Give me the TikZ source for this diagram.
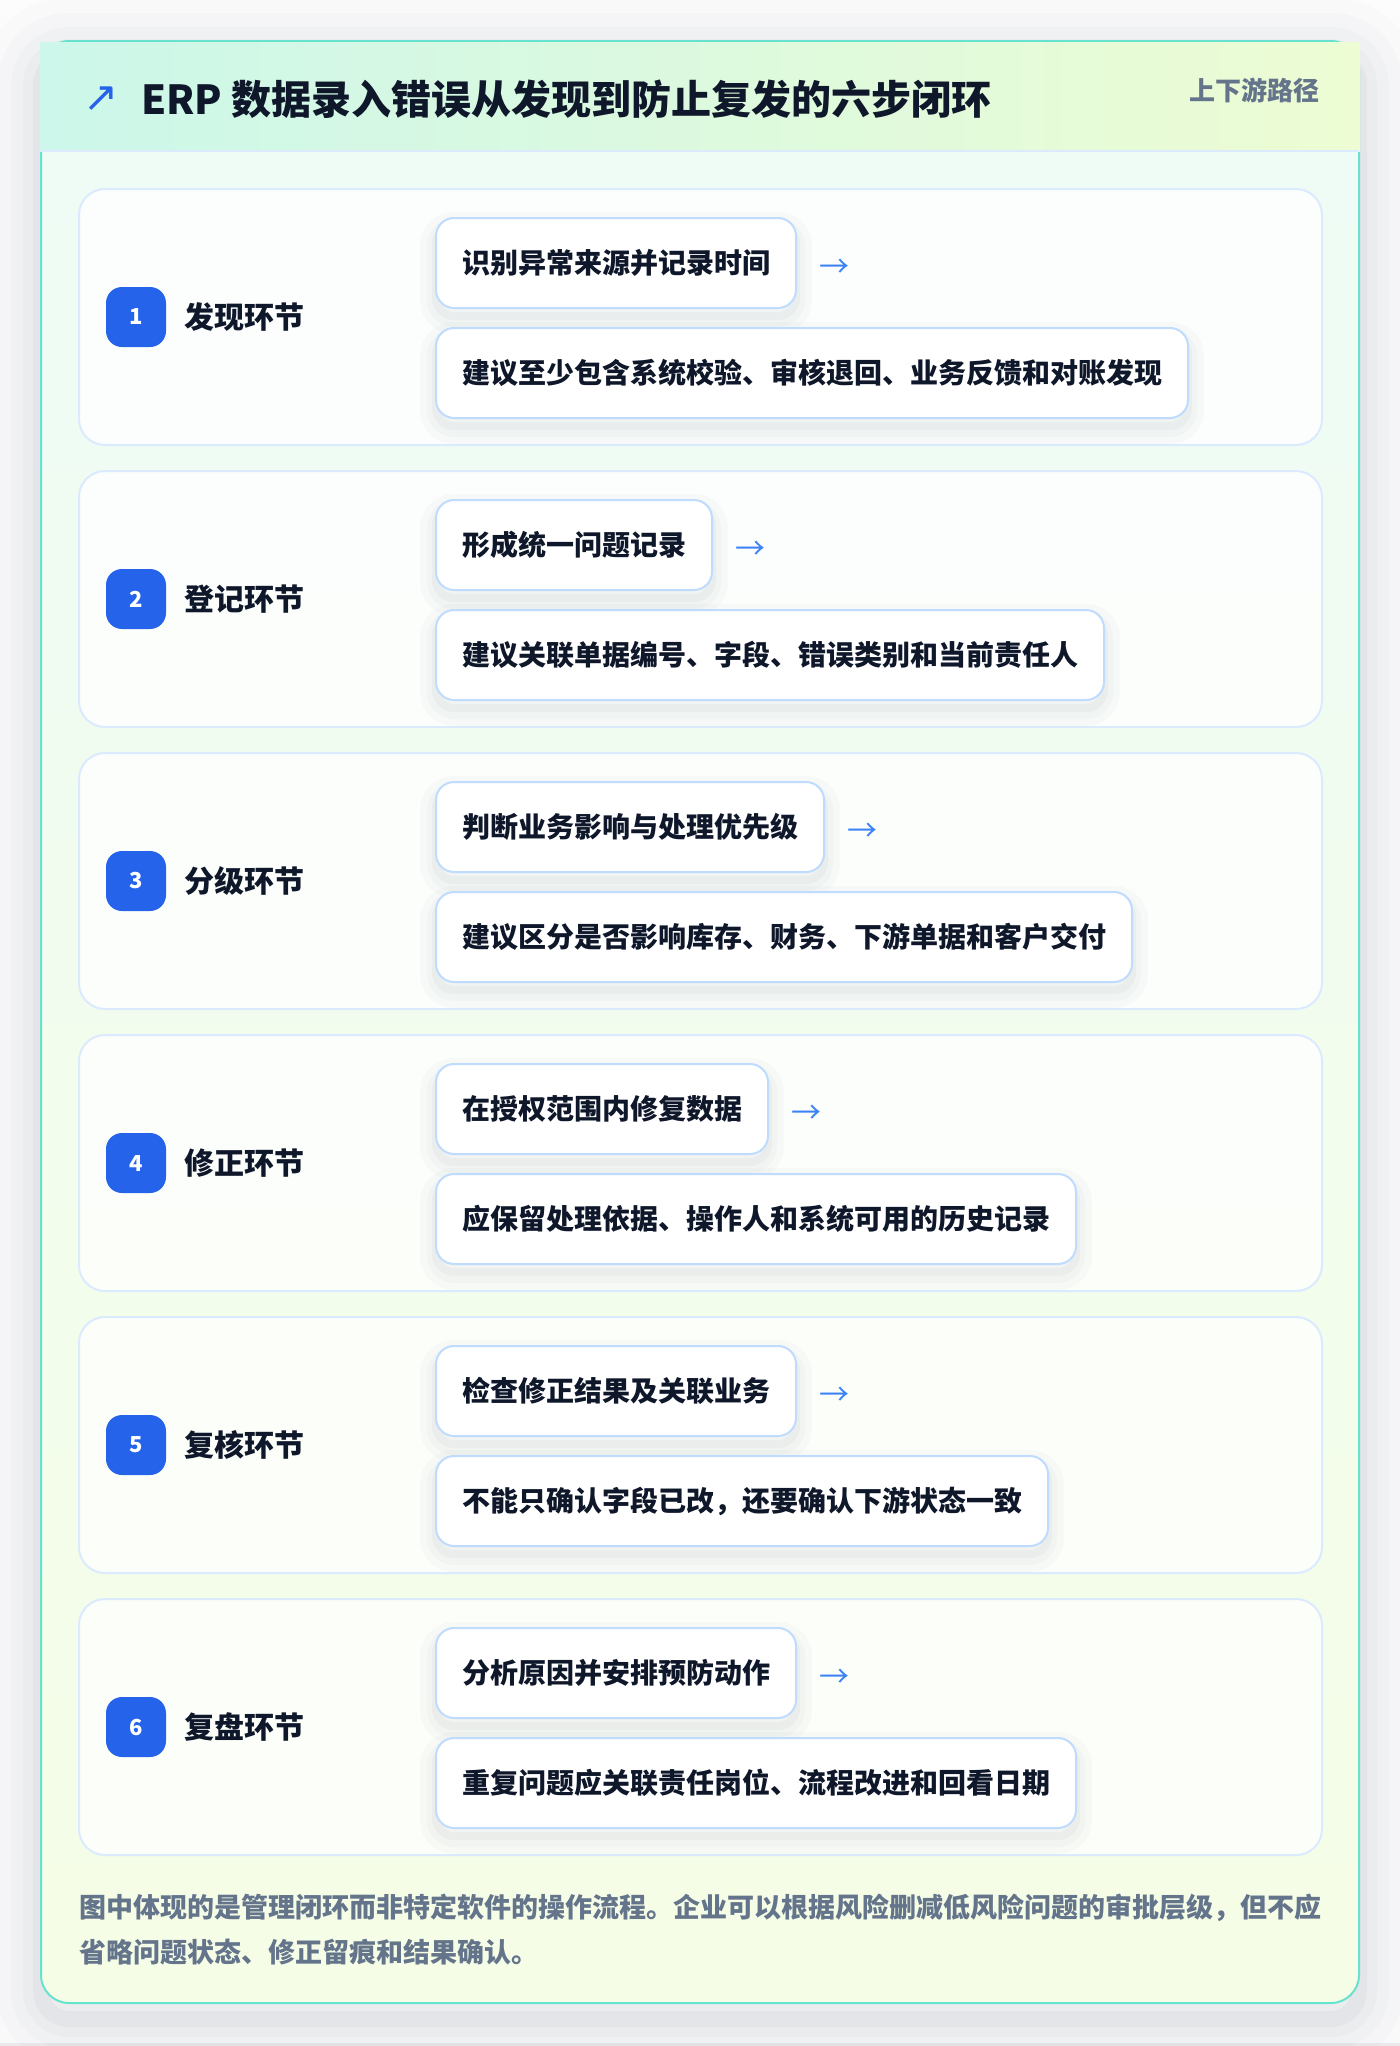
\documentclass[tikz,border=0pt]{standalone}
\usepackage{fontspec}
\setmainfont{Noto Sans CJK SC}
\newfontfamily\symfont{DejaVu Sans}
\definecolor{ink}{HTML}{0F172A}
\definecolor{slatetxt}{HTML}{64748B}
\definecolor{badgeblue}{HTML}{2563EB}
\definecolor{arrowblue}{HTML}{3B82F6}
\definecolor{boxline}{HTML}{BFDBFE}
\definecolor{cardline}{HTML}{DBEAFE}
\definecolor{outerline}{HTML}{67E2CE}
\definecolor{hdrleft}{HTML}{CCF7EA}
\definecolor{hdrright}{HTML}{EDFCD3}
\definecolor{bodytop}{HTML}{EEFCF6}
\definecolor{bodybot}{HTML}{F5FDE6}
\definecolor{pagebg}{HTML}{FCFCFD}
\definecolor{pageband}{HTML}{ECECF0}
\definecolor{shadowcol}{HTML}{1E293B}
\begin{document}
\begin{tikzpicture}[x=0.5pt,y=-0.5pt,
  stepcard/.style={draw=cardline, line width=1pt, fill=white, fill opacity=0.78, rounded corners=13pt},
  softshadow/.style={
    preaction={draw=shadowcol, draw opacity=0.018, line width=16pt, transform canvas={yshift=-5pt}},
    preaction={draw=shadowcol, draw opacity=0.025, line width=9pt, transform canvas={yshift=-5pt}},
    preaction={draw=shadowcol, draw opacity=0.03, line width=4pt, transform canvas={yshift=-4pt}}},
  itembox/.style={softshadow, draw=boxline, line width=1pt, fill=white, rounded corners=9pt,
    minimum height=45pt, inner xsep=13pt, inner ysep=0pt, text=ink,
    font=\bfseries\fontsize{14}{14}\selectfont},
  badge/.style={fill=badgeblue, rounded corners=8pt, minimum width=30pt, minimum height=30pt,
    inner sep=0pt, text=white, font=\bfseries\fontsize{11}{11}\selectfont},
  steplabel/.style={inner sep=0pt, text=ink, font=\bfseries\fontsize{15}{15}\selectfont},
  arrowtxt/.style={inner sep=0pt, text=arrowblue, font=\fontsize{15}{15}\selectfont}
]
\useasboundingbox (0,0) rectangle (1400,2046);
\fill[pagebg] (0,0) rectangle (1400,2046);
\fill[pageband] (0,2043) rectangle (1400,2046);
% outer card shadow
\foreach \w/\o in {60/0.010, 44/0.014, 30/0.018, 18/0.022, 8/0.03}{
  \draw[shadowcol, draw opacity=\o, line width=\w pt, rounded corners=14pt,
    transform canvas={yshift=-8pt}] (41,41) rectangle (1359,2003);
}
% outer card
\shade[top color=bodytop, bottom color=bodybot, rounded corners=14pt] (41,41) rectangle (1359,2003);
\draw[outerline, line width=1pt, rounded corners=14pt] (41,41) rectangle (1359,2003);
% header
\shade[left color=hdrleft, right color=hdrright] (40,42.5) rectangle (1360,151);
\draw[cardline, line width=1pt] (41,151) -- (1359,151);
\node[inner sep=0pt, text=badgeblue, font=\symfont\fontsize{21}{21}\selectfont] (icon) at (101,99) {↗};
\node[anchor=west, inner sep=0pt, text=ink, font=\bfseries\fontsize{20}{20}\selectfont] (title) at (141,99) {ERP 数据录入错误从发现到防止复发的六步闭环};
\node[anchor=east, inner sep=0pt, text=slatetxt, font=\bfseries\fontsize{13}{13}\selectfont] (tag) at (1320,90) {上下游路径};
% steps
\foreach \i/\lab/\ta/\tb in {
  1/发现环节/识别异常来源并记录时间/建议至少包含系统校验、审核退回、业务反馈和对账发现,
  2/登记环节/形成统一问题记录/建议关联单据编号、字段、错误类别和当前责任人,
  3/分级环节/判断业务影响与处理优先级/建议区分是否影响库存、财务、下游单据和客户交付,
  4/修正环节/在授权范围内修复数据/应保留处理依据、操作人和系统可用的历史记录,
  5/复核环节/检查修正结果及关联业务/不能只确认字段已改，还要确认下游状态一致,
  6/复盘环节/分析原因并安排预防动作/重复问题应关联责任岗位、流程改进和回看日期}{
  \pgfmathsetmacro\T{189+282*(\i-1)}
  \draw[stepcard] (79,\T) rectangle (1322,\T+256);
  \node[badge] (badge\i) at (136,\T+128) {\i};
  \node[steplabel, anchor=west] (lab\i) at (184,\T+128) {\lab};
  \node[itembox, anchor=north west] (a\i) at (435,\T+28) {\ta};
  \node[itembox, anchor=north west] (b\i) at (435,\T+138) {\tb};
  \node[arrowtxt, anchor=west] (arr\i) at ([xshift=11pt,yshift=-2.5pt]a\i.east) {→};
}
% footer
\node[anchor=west, inner sep=0pt, align=left, text=slatetxt,
  font=\bfseries\fontsize{13.5}{22.5}\selectfont] (foot) at (79,1929.5)
  {图中体现的是管理闭环而非特定软件的操作流程。企业可以根据风险删减低风险问题的审批层级，但不应\\省略问题状态、修正留痕和结果确认。};
\end{tikzpicture}
\end{document}
